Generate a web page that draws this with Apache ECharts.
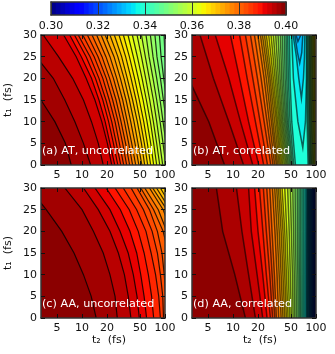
<!DOCTYPE html>
<html>
<head>
<meta charset="utf-8">
<style>html,body{margin:0;padding:0;background:#fff}#chart{width:335px;height:354px}</style>
<script src="https://cdn.jsdelivr.net/npm/echarts@6/dist/echarts.min.js"></script>
</head>
<body>
<div id="chart"></div>
<script>
var t2Ticks = [5, 10, 20, 50, 100];
var t1Ticks7 = [0, 5, 10, 15, 20, 25, 30];
var t1Ticks4 = [0, 10, 20, 30];
var barLevels = [0.300,0.302,0.304,0.306,0.308,0.310,0.312,0.314,0.316,0.318,0.320,0.322,0.324,0.326,0.328,0.330,0.332,0.334,0.336,0.338,0.340,0.342,0.344,0.346,0.348,0.350,0.352,0.354,0.356,0.358,0.360,0.362,0.364,0.366,0.368,0.370,0.372,0.374,0.376,0.378,0.380,0.382,0.384,0.386,0.388,0.390,0.392,0.394,0.396,0.398];

// contour rows: level, then t2 where it crosses each t1 row (values past the axis are clipped)
var contoursA = [
[0.398,7.4,6.3,4.7,3.2,2.2,1.6,1.2],
[0.396,12.7,10.4,8.2,6.2,4.5,2.8,2],
[0.394,18,15.7,13,10.4,7.7,5.2,3.4],
[0.392,22.8,20.2,17.3,14.3,11.2,8.5,6],
[0.390,24.8,21.7,19,16,13,9.8,7.1],
[0.388,27,23.9,20.9,17.8,14.5,11.2,8.1],
[0.386,29.3,25.9,22.8,19.4,16,12.5,9],
[0.384,31.8,28.2,25,21.3,17.8,14,10.2],
[0.382,34.5,30.9,27.2,23.4,19.6,15.6,11.6],
[0.380,37.5,33.5,29.5,25.7,21.5,17.4,13.2],
[0.378,40.7,36.5,32.4,28.2,23.9,19.4,15],
[0.376,44.4,39.7,35.1,30.9,26.2,21.7,17],
[0.374,48.4,43.5,38.6,33.9,29,24.3,19],
[0.372,52.6,47.3,42.3,37.2,32.1,27,21.7],
[0.370,56.9,52,46.4,40.7,35.1,30,24.5],
[0.368,61.9,56.4,50.5,44.8,39,33.5,27.9],
[0.366,67.2,61.3,55.4,49,43,37.2,31.5],
[0.364,73,67.2,60.7,54.4,47.7,41.5,35.8],
[0.362,79.4,73,66.6,59.6,52.9,46.4,40.4],
[0.360,86.4,79.4,72.4,65.4,58.5,52,46],
[0.358,93.8,86.4,79.4,72.4,64.8,57.9,52],
[0.356,102,94.7,87.2,79.4,71.7,64.2,59],
[0.354,111,103,94.7,87.2,79.4,71.7,66.6],
[0.352,121,112,104,95.6,88,80,75.6],
[0.350,131,122,113,105,96.5,89.6,85.6],
[0.348,142,132,124,115,107,100,97.4]
];
var contoursC = [
[0.398,14.8,12.9,10.4,8,5.7,3.7,2.3],
[0.396,26.6,25,21.7,18,13.7,10,6.2],
[0.394,38.8,36.1,32.4,27.4,21.7,15.7,10.4],
[0.392,49,46,41.5,36,28.7,21.7,14.3],
[0.390,60,56,51,45.6,37.8,29,19.5],
[0.388,73,69,63,56,47.6,37.1,25],
[0.386,88,84,77,68,59,45.6,31.4],
[0.384,96,94,88,81,70,55,39],
[0.382,105,102,98,92,81,65,46],
[0.380,125,120,115,110,95,73,51],
[0.378,140,130,125,118,105,83,57],
[0.376,150,140,135,128,118,95,65],
[0.374,160,150,145,138,128,105,71],
[0.372,170,160,155,148,138,115,79],
[0.370,180,170,165,158,148,125,88]
];
var contoursB = [
[0.3975,7.9,5.1,2.9,2.4],
[0.3950,13.4,8.9,5.8,4],
[0.3925,17.3,12.3,8.9,6.1],
[0.3900,20.4,15.4,12,9.3],
[0.3875,23.4,18.6,14.8,12],
[0.3850,26,21.2,17.3,14.1],
[0.3825,28.5,23.7,19.7,16.2],
[0.3800,30.3,25.7,21.8,18.1],
[0.3775,31.8,27.4,23.7,19.9],
[0.3750,33.3,29,25.2,21.4],
[0.3725,34.5,30.3,26.7,22.6],
[0.3700,35.9,31.8,27.9,23.9],
[0.3675,37.2,33.3,29.2,25.2],
[0.3650,38.6,34.5,30.6,26.9],
[0.3625,40,35.9,32.1,28.7],
[0.3600,41.6,37.2,33.6,30.6],
[0.3575,43.2,38.6,35.2,32.7],
[0.3550,44.8,40,36.9,34.9],
[0.3525,46.4,41.6,38.6,37.2],
[0.3500,48.2,43.2,40.4,39.3],
[0.3475,50,44.8,42.4,41.6],
[0.3450,52,46.4,44.4,43.6],
[0.3425,53.9,48.6,46.4,45.5],
[0.3400,56.5,51,48.6,47.7]
];
// the far side of the valley in (b), where values climb again
var contoursBRight = [
[0.3400,80.3,78.1,77.4,76.7],
[0.3425,82.6,80.3,79.5,78.8],
[0.3450,84.1,82.6,81.8,81],
[0.3475,85.7,84.1,83.3,82.6],
[0.3500,87.3,85.7,84.9,84.1],
[0.3525,88.9,87.3,86.5,85.7],
[0.3550,90.6,88.9,88.1,87.3],
[0.3575,92.3,90.6,89.8,88.9],
[0.3600,94.1,92.3,91.4,90.6],
[0.3625,95.8,94.1,93.2,92.3],
[0.3650,97.6,95.8,95,94.1],
[0.3675,99.5,97.6,96.7,95.8],
[0.3700,101.3,99.5,98.5,97.6]
];
var pocketsB = [
[0.3375,[[50.9,30],[53.4,20],[60.5,10],[69.3,4],[74.6,10],[76.7,20],[76.7,30]]],
[0.3350,[[53,30],[58,25],[62,20],[66.7,15.4],[70.6,20],[72.6,25],[73.4,30]]],
[0.3325,[[55.5,30],[59.7,26],[63.6,23.5],[67.4,26],[69.3,30]]],
[0.3300,[[57.5,30],[60.5,28.5],[65.6,30]]]
];
var contoursD = [
[0.3975,14.1,10.5,7.5,6.3],
[0.3950,18.6,15.4,12.8,11],
[0.3925,22.8,19.5,16.6,15.4],
[0.3900,25.7,22.8,20,18.2],
[0.3875,28.2,25.2,22.9,20.8],
[0.3850,30,27.7,25.2,23.2],
[0.3825,31.8,29.6,27.5,25.5],
[0.3800,33.3,31.5,29.5,27.7],
[0.3775,35.5,33.9,32,29.8],
[0.3750,38,36,34,31.8],
[0.3725,40,38,36,33.6],
[0.3700,42,40,38,35.2],
[0.3675,44,42,40,36.9],
[0.3650,46,44,42,39],
[0.3625,48.2,46.4,44.4,42],
[0.3600,50.5,49,47.5,45.5],
[0.3575,53,52,50.5,49],
[0.3550,55.5,54.7,53.6,52.5],
[0.3525,58.1,57.5,56.5,56],
[0.3500,60.8,60.4,59.6,59.4],
[0.3475,63.2,62.9,62.4,62.4],
[0.3450,65.5,65.3,65,65.2],
[0.3425,68,68,67.9,68],
[0.3400,70.6,70.8,70.8,71],
[0.3375,73.4,73.6,73.8,74],
[0.3350,76,76.2,76.4,76.7],
[0.33375,77.3,77.4,77.6,77.8],
[0.3325,78.5,78.7,78.8,79],
[0.33125,79.7,79.9,80,80.2],
[0.3300,81,81.1,81.3,81.4],
[0.32875,82.3,82.4,82.5,82.7],
[0.3275,83.5,83.6,83.8,83.9],
[0.32625,84.8,84.9,85,85.2],
[0.3250,86.1,86.2,86.3,86.4],
[0.32375,87.4,87.5,87.6,87.7],
[0.3225,88.7,88.8,88.9,89],
[0.32125,90,90.1,90.2,90.3],
[0.3200,91.3,91.4,91.5,91.6],
[0.31875,92.6,92.7,92.8,92.9],
[0.3175,93.9,94,94.1,94.2],
[0.31625,95.2,95.3,95.4,95.5],
[0.3150,96.5,96.6,96.7,96.8],
[0.31375,97.8,97.9,98,98.1],
[0.3125,99.1,99.2,99.3,99.4],
[0.31125,100.4,100.5,100.6,100.7]
];

// matplotlib jet
function jet(v){
    function ramp(stops){
        for(var i=1;i<stops.length;i++){
            if(v<=stops[i][0]){
                var a=stops[i-1],b=stops[i]
                return a[1]+(b[1]-a[1])*(v-a[0])/(b[0]-a[0])
            }
        }
        return stops[stops.length-1][1]
    }
    var r=ramp([[0,0],[0.35,0],[0.66,1],[0.89,1],[1,0.5]])
    var g=ramp([[0,0],[0.125,0],[0.375,1],[0.64,1],[0.91,0],[1,0]])
    var b=ramp([[0,0.5],[0.11,1],[0.34,1],[0.65,0],[1,0]])
    return 'rgb('+Math.round(r*255)+','+Math.round(g*255)+','+Math.round(b*255)+')'
}
function levelColor(level){
    return jet(Math.max(0,Math.min(1,(level-0.3)/0.1)))
}

var grids=[
    {left:41,top:35,width:124,height:130,backgroundColor:levelColor(0.347),show:true,borderWidth:0},
    {left:192,top:35,width:124,height:130,backgroundColor:levelColor(0.371),show:true,borderWidth:0},
    {left:41,top:188,width:124,height:130,backgroundColor:levelColor(0.369),show:true,borderWidth:0},
    {left:192,top:188,width:124,height:130,backgroundColor:'#04100e',show:true,borderWidth:0},
    {left:51,top:2,width:235,height:13}
]
var xAxes=[],yAxes=[],series=[]
var ink='#333'
var labelFont={color:'#111',fontFamily:'DejaVu Sans',fontSize:11}

function addPanelAxes(i,showX){
    ['bottom','top'].forEach(function(pos){
        var main=pos==='bottom'
        xAxes.push({
            type:'log',gridIndex:i,position:pos,min:3.2,max:100,z:10,
            name:main&&showX?'t₂  (fs)':'',nameLocation:'middle',nameGap:17,
            nameTextStyle:Object.assign({padding:[0,0,0,12]},labelFont),
            axisLine:{onZero:false,lineStyle:{color:ink,width:1.5}},
            axisTick:{inside:true,length:4,customValues:t2Ticks,lineStyle:{color:'#111'}},
            axisLabel:Object.assign({show:main,margin:5,customValues:t2Ticks},labelFont),
            minorTick:{show:false},splitLine:{show:false}
        })
    });
    ['left','right'].forEach(function(pos){
        var main=pos==='left'
        yAxes.push({
            type:'value',gridIndex:i,position:pos,min:0,max:30,interval:5,z:10,
            name:main&&i%2===0?'t₁  (fs)':'',nameLocation:'middle',nameRotate:90,nameGap:27,
            nameTextStyle:labelFont,
            axisLine:{onZero:false,lineStyle:{color:ink,width:1.5}},
            axisTick:{inside:true,length:4,lineStyle:{color:'#111'}},
            axisLabel:Object.assign({show:main,margin:4},labelFont),
            splitLine:{show:false}
        })
    })
}

// each item fills everything left of its curve, so items go right to left
function contourSeries(panel,items,lineWidth,lineOpacity){
    series.push({
        type:'custom',xAxisIndex:panel*2,yAxisIndex:panel*2,clip:true,silent:true,animation:false,z:2,
        data:items.map(function(item,i){return i}),
        encode:{x:-1,y:-1},
        renderItem:function(params,api){
            var item=items[params.dataIndex]
            var line=item.pts.map(function(p){return api.coord(p)})
            var area
            if(item.closed)area=line
            else area=line.concat([api.coord([1,item.pts[item.pts.length-1][1]]),api.coord([1,item.pts[0][1]])])
            return {type:'group',children:[
                {type:'polygon',shape:{points:area},style:{fill:item.fill}},
                {type:'polyline',shape:{points:line},style:{stroke:'#000',lineWidth:lineWidth,opacity:lineOpacity,fill:null}}
            ]}
        }
    })
}

function toItems(rows,t1Rows,side,half){
    return rows.map(function(row){
        return {
            pts:row.slice(1).map(function(t2,i){return [t2,t1Rows[i]]}),
            fill:levelColor(row[0]+side*half)
        }
    })
}
function pocketItems(rows){
    return rows.map(function(row){
        return {pts:row[1],fill:levelColor(row[0]-0.00125),closed:true}
    })
}

addPanelAxes(0,false)
addPanelAxes(1,false)
addPanelAxes(2,true)
addPanelAxes(3,true)

contourSeries(0,toItems(contoursA,t1Ticks7,1,0.001).reverse(),1.2,0.8)
contourSeries(1,toItems(contoursBRight,t1Ticks4,-1,0.00125).reverse().concat(toItems(contoursB,t1Ticks4,1,0.00125).reverse(),pocketItems(pocketsB)),1.5,0.6)
contourSeries(2,toItems(contoursC,t1Ticks7,1,0.001).reverse(),1.2,0.8)
contourSeries(3,toItems(contoursD,t1Ticks4,1,0.00125).reverse(),1.5,0.6)

// colour bar
xAxes.push({
    type:'value',gridIndex:4,position:'bottom',min:0.3,max:0.4,interval:0.02,z:10,
    axisLine:{onZero:false,lineStyle:{color:ink,width:1.5}},
    axisTick:{inside:true,length:13,lineStyle:{color:ink}},
    axisLabel:Object.assign({margin:6,formatter:function(v){return v.toFixed(2)}},labelFont),
    splitLine:{show:false}
})
xAxes.push({
    type:'value',gridIndex:4,position:'top',min:0.3,max:0.4,z:10,
    axisLine:{onZero:false,lineStyle:{color:ink,width:1.5}},axisTick:{show:false},axisLabel:{show:false},splitLine:{show:false}
})
yAxes.push({type:'value',gridIndex:4,position:'left',min:0,max:1,z:10,
    axisLine:{onZero:false,lineStyle:{color:ink,width:1.5}},axisTick:{show:false},axisLabel:{show:false},splitLine:{show:false}})
yAxes.push({type:'value',gridIndex:4,position:'right',min:0,max:1,z:10,
    axisLine:{onZero:false,lineStyle:{color:ink,width:1.5}},axisTick:{show:false},axisLabel:{show:false},splitLine:{show:false}})
series.push({
    type:'custom',xAxisIndex:8,yAxisIndex:8,silent:true,animation:false,z:2,
    data:barLevels.map(function(l,i){return i}),
    encode:{x:-1,y:-1},
    renderItem:function(params,api){
        var level=barLevels[params.dataIndex]
        var a=api.coord([level,1]),b=api.coord([level+0.002,0])
        return {type:'rect',shape:{x:a[0],y:a[1],width:b[0]-a[0]+1,height:b[1]-a[1]},style:{fill:levelColor(level+0.001)}}
    }
})

var panelText=['(a) AT, uncorrelated','(b) AT, correlated','(c) AA, uncorrelated','(d) AA, correlated']
var titles=panelText.map(function(text,i){
    return {
        text:text,left:i%2?193:42,top:i<2?146:298.5,padding:0,z:20,
        textStyle:{color:'#fff',fontFamily:'DejaVu Sans',fontSize:11.2,fontWeight:'normal'}
    }
})

var chart=echarts.init(document.getElementById('chart'),null,{renderer:'canvas'})
chart.setOption({animation:false,title:titles,grid:grids,xAxis:xAxes,yAxis:yAxes,series:series})
</script>
</body>
</html>
